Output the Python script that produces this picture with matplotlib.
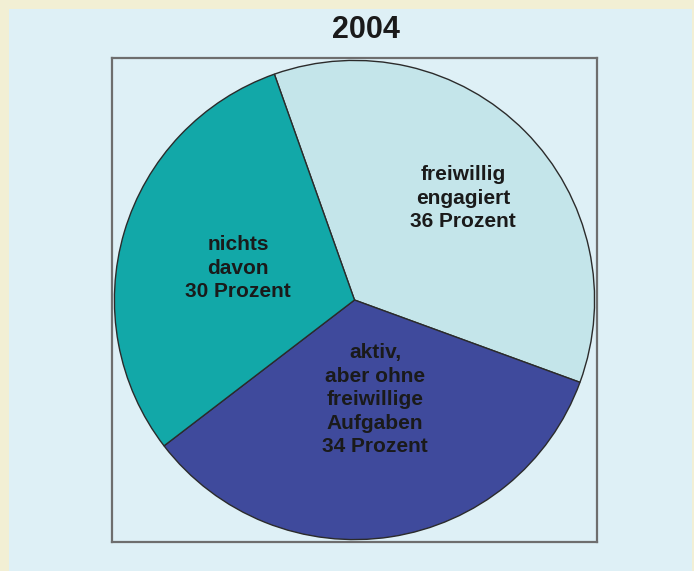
"""
Pie chart of civic engagement shares for 2004, drawn inside a framed panel.
Writes out.png.
"""
import matplotlib
matplotlib.use("Agg")
import matplotlib.pyplot as plt
from matplotlib.patches import Rectangle

plt.rcParams["font.family"] = ["Liberation Sans", "DejaVu Sans"]

YEAR = "2004"
labels = ["freiwillig\nengagiert", "aktiv,\naber ohne\nfreiwillige\nAufgaben", "nichts\ndavon"]
shares = [36, 34, 30]
colors = ["#c4e5ea", "#3f4a9c", "#12a8a8"]
# label anchor points inside each slice (data coords)
label_pos = [(0.447, 0.421), (0.085, -0.413), (-0.48, 0.132)]

W, H = 694, 571
CREAM = "#f2efd4"
PANEL = "#def0f6"

fig = plt.figure(figsize=(W / 100, H / 100), dpi=100, facecolor=CREAM)

# light blue panel inside the cream border
fig.patches.append(Rectangle((9 / W, 0), (692 - 9) / W, (H - 9) / H,
                             transform=fig.transFigure, facecolor=PANEL,
                             edgecolor="none", zorder=-10))

# framed square holding the pie
left, top, right, bottom = 112, 58, 597, 542
ax = fig.add_axes([left / W, (H - bottom) / H, (right - left) / W, (bottom - top) / H])
ax.set_facecolor(PANEL)
for s in ax.spines.values():
    s.set_color("#6e6e6e")
    s.set_linewidth(1.6)

ax.pie(shares, colors=colors, startangle=109.5, counterclock=False,
       radius=0.99, center=(0, 0), frame=True,
       wedgeprops=dict(edgecolor="#2b2b2b", linewidth=1.0))
ax.set_xlim(-1, 1)
ax.set_ylim(-1, 1)
ax.set_aspect("auto")
ax.set_xticks([])
ax.set_yticks([])

for lab, val, (x, y) in zip(labels, shares, label_pos):
    ax.text(x, y, f"{lab}\n{val} Prozent", ha="center", va="center",
            fontsize=15, fontweight="bold", color="#1a1a1a", linespacing=1.3)

fig.text(366 / W, 1 - 30 / H, YEAR, ha="center", va="center",
         fontsize=22, fontweight="bold", color="#1a1a1a")

fig.savefig("out.png", dpi=100, facecolor=CREAM)
